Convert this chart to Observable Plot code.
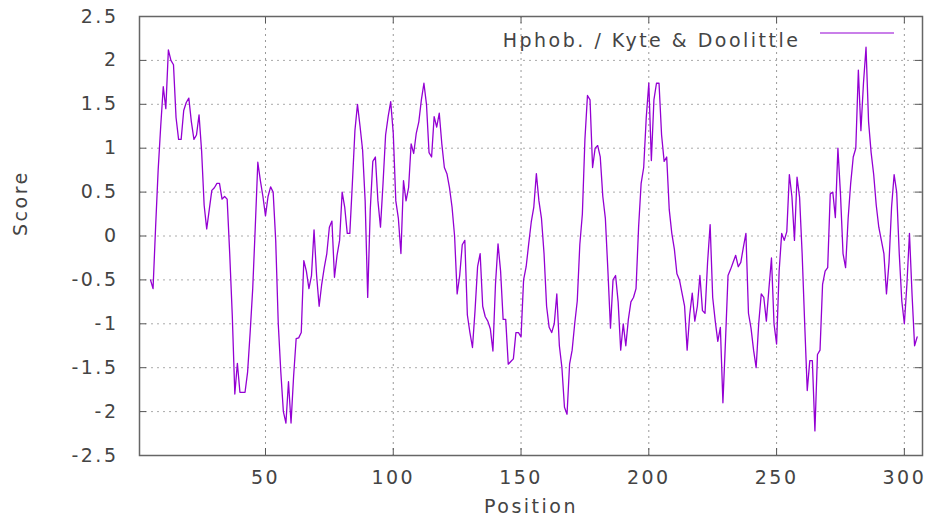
<!DOCTYPE html>
<html>
<head>
<meta charset="utf-8">
<script src="https://cdn.jsdelivr.net/npm/d3@7"></script>
<script src="https://cdn.jsdelivr.net/npm/@observablehq/plot@0.6"></script>
<style>
  html, body { margin: 0; padding: 0; background: #fff; }
</style>
</head>
<body>
<div id="chart"></div>
<script>
// Kyte & Doolittle hydrophobicity scores, window centred positions 5..305
const startPosition = 5;
const scores = [
  -0.5, -0.6, 0.1, 0.75, 1.25, 1.7, 1.45, 2.12, 2.0, 1.95,
  1.35, 1.1, 1.1, 1.43, 1.52, 1.57, 1.3, 1.1, 1.15, 1.38,
  0.97, 0.35, 0.08, 0.3, 0.52, 0.55, 0.6, 0.6, 0.42, 0.45,
  0.42, -0.2, -0.9, -1.8, -1.45, -1.78, -1.78, -1.78, -1.55, -1.1,
  -0.6, 0.1, 0.84, 0.63, 0.45, 0.23, 0.45, 0.56, 0.5, -0.05,
  -1.0, -1.55, -2.0, -2.13, -1.66, -2.13, -1.6, -1.17, -1.16, -1.1,
  -0.28, -0.4, -0.6, -0.45, 0.07, -0.45, -0.8, -0.55, -0.36, -0.2,
  0.1, 0.17, -0.47, -0.22, -0.05, 0.5, 0.33, 0.03, 0.03, 0.6,
  1.2, 1.5, 1.25, 0.98, 0.4, -0.7, 0.3, 0.85, 0.9, 0.4,
  0.1, 0.6, 1.15, 1.36, 1.53, 1.17, 0.4, 0.2, -0.2, 0.63,
  0.4, 0.55, 1.05, 0.94, 1.17, 1.3, 1.55, 1.74, 1.5, 0.95,
  0.9, 1.36, 1.24, 1.4, 1.05, 0.78, 0.71, 0.55, 0.33, 0.0,
  -0.66, -0.45, -0.1, -0.05, -0.9, -1.1, -1.27, -0.85, -0.35, -0.2,
  -0.8, -0.92, -0.97, -1.06, -1.31, -0.55, -0.09, -0.4, -0.95, -0.95,
  -1.46, -1.43, -1.4, -1.1, -1.1, -1.15, -0.5, -0.35, -0.09, 0.16,
  0.33, 0.71, 0.4, 0.2, -0.2, -0.8, -1.04, -1.1, -1.0, -0.66,
  -1.25, -1.5, -1.95, -2.03, -1.46, -1.3, -1.0, -0.74, -0.1, 0.25,
  1.1, 1.6, 1.55, 0.78, 1.0, 1.03, 0.9, 0.45, 0.2, -0.4,
  -1.05, -0.5, -0.45, -0.75, -1.3, -1.0, -1.25, -0.95, -0.75, -0.7,
  -0.6, 0.1, 0.6, 0.78, 1.35, 1.74, 0.86, 1.55, 1.74, 1.74,
  1.15, 0.85, 0.9, 0.3, 0.03, -0.15, -0.43, -0.5, -0.65, -0.8,
  -1.3, -0.9, -0.65, -0.97, -0.8, -0.45, -0.85, -0.88, -0.3, 0.13,
  -0.7, -0.97, -1.2, -1.04, -1.9, -1.2, -0.45, -0.38, -0.3, -0.22,
  -0.35, -0.3, -0.13, 0.03, -0.88, -1.05, -1.3, -1.5, -1.0, -0.66,
  -0.7, -0.97, -0.6, -0.25, -1.0, -1.23, -0.4, 0.03, -0.05, 0.05,
  0.7, 0.45, -0.05, 0.67, 0.44, -0.2, -1.0, -1.76, -1.42, -1.42,
  -2.22, -1.35, -1.3, -0.55, -0.4, -0.36, 0.48, 0.5, 0.21, 1.0,
  0.48, -0.2, -0.36, 0.2, 0.6, 0.9, 1.0, 1.89, 1.2, 1.74,
  2.15, 1.3, 0.95, 0.7, 0.35, 0.1, -0.05, -0.2, -0.66, -0.3,
  0.33, 0.7, 0.5, -0.2, -0.74, -1.0, -0.55, 0.03, -0.66, -1.25,
  -1.15
];
const xTicks = [50, 100, 150, 200, 250, 300];
const yTicks = [-2.5, -2, -1.5, -1, -0.5, 0, 0.5, 1, 1.5, 2, 2.5];
const yGridTicks = [-2, -1.5, -1, -0.5, 0, 0.5, 1, 1.5, 2];
const xLabel = "Position";
const yLabel = "Score";
const legendLabel = "Hphob. / Kyte & Doolittle";
const lineColor = "#9400d3";

const data = scores.map((s, i) => ({pos: startPosition + i, score: s}));

const W = 928, H = 531;
const mL = 139, mR = 6, mT = 16, mB = 76;
const plotW = W - mL - mR, plotH = H - mT - mB;
const tickLen = 7;
const textColor = "#444";

const legendMark = (index, scales, values, dims) => {
  const g = d3.create("svg:g");
  const right = dims.width - dims.marginRight;
  const y = dims.marginTop + 17;
  g.append("line")
    .attr("x1", right - 102).attr("x2", right - 28)
    .attr("y1", y).attr("y2", y)
    .attr("stroke", lineColor).attr("stroke-width", 1.2);
  return g.node();
};

const chart = Plot.plot({
  width: W, height: H,
  marginLeft: mL, marginRight: mR, marginTop: mT, marginBottom: mB,
  x: {domain: [0.7, 307.1]},
  y: {domain: [-2.5, 2.5]},
  style: {fontFamily: "DejaVu Sans, sans-serif", fontSize: "19px", letterSpacing: "2.5px", color: textColor, background: "#fff"},
  marks: [
    Plot.ruleX(xTicks, {stroke: "#999", strokeDasharray: "2,4", strokeWidth: 1}),
    Plot.ruleY(yGridTicks, {stroke: "#aaa", strokeDasharray: "2,4", strokeWidth: 1}),
    // inward tick marks on all four sides
    Plot.ruleX(xTicks, {stroke: "#555", insetTop: plotH - tickLen}),
    Plot.ruleX(xTicks, {stroke: "#555", insetBottom: plotH - tickLen}),
    Plot.ruleY(yTicks, {stroke: "#555", insetRight: plotW - tickLen}),
    Plot.ruleY(yTicks, {stroke: "#555", insetLeft: plotW - tickLen}),
    Plot.line(data, {x: "pos", y: "score", stroke: lineColor, strokeWidth: 1.3}),
    Plot.frame({stroke: "#666", strokeWidth: 1.5}),
    Plot.axisX(xTicks, {tickSize: 0, tickPadding: 15, tickFormat: d => String(d), fill: textColor, label: null}),
    Plot.axisY(yTicks, {tickSize: 0, tickPadding: 21, tickFormat: d => String(d), fill: textColor, label: null}),
    Plot.text([xLabel], {frameAnchor: "bottom", dy: 57, fill: textColor}),
    Plot.text([yLabel], {frameAnchor: "left", dx: -119, rotate: -90, fill: textColor}),
    Plot.text([legendLabel], {frameAnchor: "top-right", textAnchor: "end", dx: -122, dy: 17, fill: textColor}),
    legendMark
  ]
});
document.getElementById("chart").appendChild(chart);
</script>
</body>
</html>
